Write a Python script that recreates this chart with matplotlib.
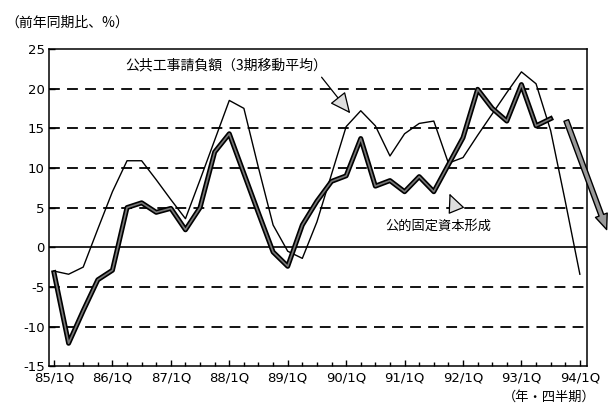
import numpy as np
import matplotlib.pyplot as plt
import matplotlib.patheffects as pe

plt.rcParams['font.family'] = ['Noto Sans CJK JP', 'DejaVu Sans']

# quarters from 85/1Q (index 0) to 94/1Q (index 36)
year_labels = ['85/1Q', '86/1Q', '87/1Q', '88/1Q', '89/1Q',
               '90/1Q', '91/1Q', '92/1Q', '93/1Q', '94/1Q']

# 公共工事請負額 (3期移動平均), 85/1Q - 94/1Q
contracts = [-3.0, -3.4, -2.5, 2.3, 7.0, 10.9, 10.9, 8.5, 6.0, 3.6,
             8.5, 13.5, 18.5, 17.5, 10.0, 2.8, -0.5, -1.4, 3.2, 9.2,
             15.2, 17.2, 15.3, 11.5, 14.3, 15.6, 15.9, 10.6, 11.3, 14.1,
             16.8, 19.5, 22.1, 20.6, 14.7, 5.8, -3.4]

# 公的固定資本形成, 85/1Q - 93/3Q
public_inv = [-3.2, -12.1, -8.0, -4.1, -2.9, 5.0, 5.6, 4.4, 4.9, 2.2,
              5.0, 12.0, 14.3, 9.3, 4.3, -0.6, -2.4, 2.8, 5.8, 8.3,
              9.0, 13.7, 7.7, 8.4, 7.0, 8.9, 7.0, 10.4, 13.8, 19.9,
              17.5, 15.9, 20.5, 15.3, 16.2]

fig = plt.figure(figsize=(6.11, 4.07), dpi=100)
ax = fig.add_axes([0.080, 0.100, 0.881, 0.780])

# grid lines
for v in [-10, -5, 5, 10, 15, 20]:
    ax.axhline(v, color='black', lw=1.3, dashes=(6, 4), zorder=1)
ax.axhline(0, color='black', lw=1.2, zorder=1)

ax.plot(np.arange(len(contracts)), contracts, color='black', lw=1.0, zorder=3)
ax.plot(np.arange(len(public_inv)), public_inv, color='#777777', lw=1.2, zorder=4,
        path_effects=[pe.Stroke(linewidth=3.6, foreground='black'), pe.Normal()])

ax.set_xlim(-0.35, 36.5)
ax.set_ylim(-15, 25)

ax.set_xticks(np.arange(0, 37, 4))
ax.set_xticklabels(year_labels)
ax.set_xticks(np.arange(0, 37, 1), minor=True)
ax.set_yticks(np.arange(-15, 26, 5))
ax.set_yticklabels([str(v) for v in range(-15, 26, 5)])
ax.tick_params(axis='both', which='major', direction='in', length=4, width=1,
               labelsize=9.5)
ax.tick_params(axis='x', which='major', pad=4)
ax.tick_params(axis='y', which='major', pad=3)
ax.tick_params(axis='x', which='minor', direction='in', length=3, width=1)
for lab in ax.get_xticklabels() + ax.get_yticklabels():
    lab.set_family(['Liberation Sans Narrow', 'DejaVu Sans'])
for s in ax.spines.values():
    s.set_linewidth(1.1)

# labels with arrows
ax.text(4.9, 22.9, '公共工事請負額（3期移動平均）', fontsize=10, va='center', ha='left')
ax.annotate('', xy=(20.4, 16.6), xytext=(18.2, 21.7),
            arrowprops=dict(arrowstyle='-|>,head_length=1.3,head_width=0.6',
                            fc='#dddddd', ec='black', lw=0.9))
ax.text(22.7, 2.7, '公的固定資本形成', fontsize=9.5, va='center', ha='left')
ax.annotate('', xy=(27.0, 7.1), xytext=(27.6, 4.4),
            arrowprops=dict(arrowstyle='-|>,head_length=1.2,head_width=0.55',
                            fc='#dddddd', ec='black', lw=0.9))

# big downward arrow
ax.annotate('', xy=(37.9, 1.9), xytext=(35.0, 16.3), annotation_clip=False,
            arrowprops=dict(arrowstyle='simple,head_length=1.1,head_width=0.9,tail_width=0.35',
                            fc='#999999', ec='black', lw=1.0))

fig.text(0.008, 0.945, '（前年同期比、%）', fontsize=10, va='center', ha='left')
fig.text(0.975, 0.025, '（年・四半期）', fontsize=9.5, va='center', ha='right')

fig.savefig('out.png', dpi=100)
